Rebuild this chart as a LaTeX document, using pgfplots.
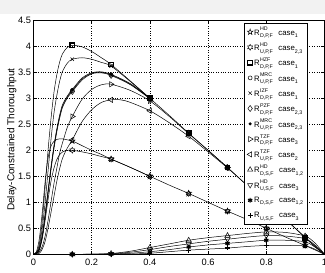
\documentclass[border=0pt]{standalone}
\usepackage{fontspec}
\setmainfont{Liberation Sans}
\usepackage{pgfplots}
\pgfplotsset{compat=1.18}
\pgfdeclareplotmark{pentagram}{%
  \pgfpathmoveto{\pgfpointpolar{90}{1.25\pgfplotmarksize}}%
  \pgfpathlineto{\pgfpointpolar{126}{0.48\pgfplotmarksize}}%
  \pgfpathlineto{\pgfpointpolar{162}{1.25\pgfplotmarksize}}%
  \pgfpathlineto{\pgfpointpolar{198}{0.48\pgfplotmarksize}}%
  \pgfpathlineto{\pgfpointpolar{234}{1.25\pgfplotmarksize}}%
  \pgfpathlineto{\pgfpointpolar{270}{0.48\pgfplotmarksize}}%
  \pgfpathlineto{\pgfpointpolar{306}{1.25\pgfplotmarksize}}%
  \pgfpathlineto{\pgfpointpolar{342}{0.48\pgfplotmarksize}}%
  \pgfpathlineto{\pgfpointpolar{18}{1.25\pgfplotmarksize}}%
  \pgfpathlineto{\pgfpointpolar{54}{0.48\pgfplotmarksize}}%
  \pgfpathclose\pgfusepathqstroke}
\pgfdeclareplotmark{hexagram}{%
  \pgfpathmoveto{\pgfpointpolar{90}{1.2\pgfplotmarksize}}%
  \pgfpathlineto{\pgfpointpolar{120}{0.69\pgfplotmarksize}}%
  \pgfpathlineto{\pgfpointpolar{150}{1.2\pgfplotmarksize}}%
  \pgfpathlineto{\pgfpointpolar{180}{0.69\pgfplotmarksize}}%
  \pgfpathlineto{\pgfpointpolar{210}{1.2\pgfplotmarksize}}%
  \pgfpathlineto{\pgfpointpolar{240}{0.69\pgfplotmarksize}}%
  \pgfpathlineto{\pgfpointpolar{270}{1.2\pgfplotmarksize}}%
  \pgfpathlineto{\pgfpointpolar{300}{0.69\pgfplotmarksize}}%
  \pgfpathlineto{\pgfpointpolar{330}{1.2\pgfplotmarksize}}%
  \pgfpathlineto{\pgfpointpolar{0}{0.69\pgfplotmarksize}}%
  \pgfpathlineto{\pgfpointpolar{30}{1.2\pgfplotmarksize}}%
  \pgfpathlineto{\pgfpointpolar{60}{0.69\pgfplotmarksize}}%
  \pgfpathclose\pgfusepathqstroke}
\newcommand{\ssz}{\fontsize{5.3}{5.3}\selectfont}
\newcommand{\RR}[3]{R\kern0.3pt\rlap{\raisebox{4.3pt}{\ssz #1}}\raisebox{-2.6pt}{\ssz #2}\hspace{5.5pt}case\raisebox{-2.6pt}{\ssz #3}}
\begin{document}
\begin{tikzpicture}
\fill[black!5] (0,259pt) rectangle (325pt,273pt);
\begin{axis}[
  at={(33.5pt,18.7pt)}, anchor=south west,
  scale only axis, width=291pt, height=234pt,
  xmin=0, xmax=1, ymin=0, ymax=4.5,
  xtick={0,0.2,0.4,0.6,0.8,1}, ytick={0,0.5,...,4.5},
  xticklabels={0,0.2,0.4,0.6,0.8,1},
  yticklabels={0,0.5,1,1.5,2,2.5,3,3.5,4,4.5},
  tick label style={font=\fontsize{9.3}{10}\selectfont},
  xticklabel style={yshift=-1pt},
  yticklabel style={xshift=1pt},
  /pgf/number format/assume math mode=true,
  ylabel={Delay-Constrained Thoroughput},
  ylabel style={font=\fontsize{10}{11}\selectfont},
  every axis y label/.style={at={(axis description cs:-0.075,0.49)}, rotate=90, anchor=center},
  grid=major, grid style={dotted, black, line width=0.45pt},
  tick style={black, line width=0.4pt}, major tick length=3pt,
  axis line style={line width=0.5pt},
  every axis plot/.append style={black, line width=0.5pt},
  mark size=2.4pt,
  legend style={at={(0.723,0.988)}, anchor=north west, draw=black, line width=0.5pt, fill=white,
    font=\fontsize{7.8}{7.8}\selectfont, inner xsep=3pt, inner ysep=1pt, row sep=0pt,
    nodes={minimum height=15.3pt, inner ysep=0pt, inner xsep=1pt},
    /tikz/every even column/.append style={column sep=1.5pt}},
  legend cell align=left,
  legend image code/.code={\draw[mark repeat=2,mark phase=2,#1] plot coordinates {(0cm,0cm) (0.2cm,0cm) (0.4cm,0cm)};},
]
% ---------- curves (lines) ----------
\addplot[smooth, tension=0.5, forget plot] coordinates {(0,0) (0.01,0.05) (0.02,0.3) (0.03,0.8) (0.04,1.4) (0.05,1.85) (0.06,2.08) (0.07,2.17) (0.08,2.21) (0.09,2.22) (0.1,2.22) (0.1167,2.2) (0.1333,2.18) (0.1667,2.09) (0.2,2.0) (0.2333,1.92) (0.2667,1.83) (0.3333,1.67) (0.4,1.5) (0.4667,1.33) (0.5333,1.17) (0.6,1.0) (0.6667,0.83) (0.7333,0.67) (0.8,0.5) (0.8667,0.33) (0.9333,0.17) (1,0)};
\addplot[smooth, tension=0.5, forget plot] coordinates {(0,0) (0.01,0.01) (0.02,0.08) (0.03,0.3) (0.04,0.65) (0.05,1.05) (0.06,1.4) (0.07,1.65) (0.08,1.82) (0.09,1.92) (0.1,1.97) (0.1167,2.0) (0.1333,2.0) (0.1667,1.97) (0.2,1.93) (0.2333,1.88) (0.2667,1.83) (0.3333,1.67) (0.4,1.5)};
\addplot[smooth, tension=0.5, forget plot] coordinates {(0,0) (0.01,0.03) (0.02,0.2) (0.03,0.65) (0.04,1.3) (0.05,2.0) (0.06,2.6) (0.07,3.1) (0.08,3.45) (0.09,3.7) (0.1,3.86) (0.1167,3.98) (0.1333,4.02) (0.1667,3.99) (0.2,3.9) (0.2333,3.78) (0.2667,3.65) (0.3333,3.33) (0.4,3.0) (0.4667,2.67) (0.5333,2.33) (0.6,2.0) (0.6667,1.67) (0.7333,1.33) (0.8,1.0) (0.8667,0.67) (0.9333,0.32) (0.9667,0.15) (1,0)};
\addplot[smooth, tension=0.5, forget plot] coordinates {(0,0) (0.01,0.02) (0.02,0.1) (0.03,0.35) (0.04,0.75) (0.05,1.2) (0.06,1.65) (0.07,2.05) (0.08,2.38) (0.09,2.65) (0.1,2.85) (0.1167,3.03) (0.1333,3.15) (0.1667,3.37) (0.2,3.48) (0.2333,3.5) (0.2667,3.45) (0.3333,3.27) (0.4,3.0)};
\addplot[smooth, tension=0.5, forget plot] coordinates {(0,0) (0.01,0.03) (0.02,0.15) (0.03,0.5) (0.04,1.0) (0.05,1.6) (0.06,2.2) (0.07,2.7) (0.08,3.05) (0.09,3.33) (0.1,3.52) (0.1167,3.68) (0.1333,3.75) (0.1667,3.78) (0.2,3.75) (0.2333,3.69) (0.2667,3.62) (0.3333,3.32) (0.4,3.0)};
\addplot[smooth, tension=0.5, forget plot] coordinates {(0,0) (0.01,0.02) (0.02,0.09) (0.03,0.33) (0.04,0.72) (0.05,1.17) (0.06,1.62) (0.07,2.02) (0.08,2.35) (0.09,2.62) (0.1,2.83) (0.1167,3.01) (0.1333,3.13) (0.1667,3.35) (0.2,3.47) (0.2333,3.49) (0.2667,3.44) (0.3333,3.26) (0.4,2.99)};
\addplot[smooth, tension=0.5, forget plot] coordinates {(0,0) (0.01,0.02) (0.02,0.11) (0.03,0.37) (0.04,0.78) (0.05,1.23) (0.06,1.68) (0.07,2.08) (0.08,2.41) (0.09,2.68) (0.1,2.88) (0.1167,3.05) (0.1333,3.17) (0.1667,3.39) (0.2,3.49) (0.2333,3.51) (0.2667,3.46) (0.3333,3.28) (0.4,3.0)};
\addplot[smooth, tension=0.5, forget plot] coordinates {(0,0) (0.01,0.01) (0.02,0.05) (0.03,0.15) (0.04,0.35) (0.05,0.65) (0.06,1.0) (0.07,1.35) (0.08,1.65) (0.09,1.95) (0.1,2.15) (0.1167,2.45) (0.1333,2.65) (0.1667,2.98) (0.2,3.17) (0.2333,3.26) (0.2667,3.27) (0.3333,3.15) (0.4,2.95) (0.4667,2.65) (0.5333,2.32) (0.6,2.0) (0.6667,1.67)};
\addplot[smooth, tension=0.5, forget plot] coordinates {(0,0) (0.02,0.02) (0.03,0.1) (0.04,0.25) (0.05,0.5) (0.06,0.8) (0.07,1.1) (0.08,1.4) (0.09,1.65) (0.1,1.85) (0.1167,2.05) (0.1333,2.2) (0.1667,2.55) (0.2,2.78) (0.2333,2.92) (0.2667,2.97) (0.3,2.97) (0.3333,2.92) (0.4,2.76) (0.4667,2.53) (0.5333,2.27) (0.6,1.97) (0.6667,1.66) (0.7333,1.33) (0.8,1.0) (0.8667,0.67) (0.9333,0.33) (0.9667,0.16) (1,0)};
\addplot[smooth, tension=0.5, forget plot] coordinates {(0,0) (0.1333,0) (0.2,0.003) (0.2667,0.015) (0.3333,0.06) (0.4,0.13) (0.4667,0.2) (0.5333,0.27) (0.6,0.32) (0.6667,0.36) (0.7333,0.4) (0.8,0.43) (0.8667,0.42) (0.9333,0.35) (0.9667,0.22) (1,0)};
\addplot[smooth, tension=0.5, forget plot] coordinates {(0,0) (0.1333,0) (0.2,0.002) (0.2667,0.01) (0.3333,0.04) (0.4,0.09) (0.4667,0.15) (0.5333,0.2) (0.6,0.25) (0.6667,0.29) (0.7333,0.33) (0.8,0.36) (0.8667,0.35) (0.9333,0.3) (0.9667,0.18) (1,0)};
\addplot[smooth, tension=0.5, forget plot] coordinates {(0,0) (0.1333,0) (0.2,0.001) (0.2667,0.005) (0.3333,0.02) (0.4,0.05) (0.4667,0.09) (0.5333,0.14) (0.6,0.18) (0.6667,0.21) (0.7333,0.24) (0.8,0.27) (0.8667,0.27) (0.9333,0.24) (0.9667,0.14) (1,0)};
\addplot[smooth, tension=0.5, forget plot] coordinates {(0,0) (0.1333,0) (0.2667,0.001) (0.3333,0.005) (0.4,0.02) (0.4667,0.05) (0.5333,0.08) (0.6,0.1) (0.6667,0.12) (0.7333,0.15) (0.8,0.17) (0.8667,0.17) (0.9333,0.16) (0.9667,0.1) (1,0)};
% ---------- marks ----------
\addplot[only marks, mark=pentagram] coordinates {(0.1333,2.18) (0.2667,1.83) (0.4,1.5) (0.5333,1.17) (0.6667,0.83) (0.8,0.5) (0.9333,0.17)};
\addlegendentry{\RR{HD}{D,P,F}{1}}
\addplot[only marks, mark=hexagram] coordinates {(0.1333,2.0) (0.2667,1.83) (0.4,1.5) (0.5333,1.17) (0.6667,0.83) (0.8,0.5) (0.9333,0.17)};
\addlegendentry{\RR{HD}{U,P,F}{2,3}}
\addplot[only marks, mark=square, mark options={line width=1.3pt}, mark size=2.3pt] coordinates {(0.1333,4.02) (0.2667,3.65) (0.4,3.0) (0.5333,2.33) (0.6667,1.67) (0.8,1.0) (0.9333,0.32)};
\addlegendentry{\RR{HZF}{D,P,F}{1}}
\addplot[only marks, mark=o, mark size=2pt] coordinates {(0.1333,3.15) (0.2667,3.45) (0.4,3.0) (0.5333,2.33) (0.6667,1.67) (0.8,1.0) (0.9333,0.32)};
\addlegendentry{\RR{MRC}{U,P,F}{1}}
\addplot[only marks, mark=x] coordinates {(0.1333,3.75) (0.2667,3.62) (0.4,3.0) (0.5333,2.33) (0.6667,1.67) (0.8,1.0) (0.9333,0.32)};
\addlegendentry{\RR{IZF}{D,P,F}{1}}
\addplot[only marks, mark=diamond, mark size=3pt] coordinates {(0.1333,3.13) (0.2667,3.44) (0.4,2.99) (0.5333,2.33) (0.6667,1.67) (0.8,1.0) (0.9333,0.32)};
\addlegendentry{\RR{PZF}{D,P,F}{2,3}}
\addplot[only marks, mark=*, mark size=1.3pt] coordinates {(0.1333,3.17) (0.2667,3.46) (0.4,3.0) (0.5333,2.33) (0.6667,1.67) (0.8,1.0) (0.9333,0.32)};
\addlegendentry{\RR{MRC}{U,P,F}{2,3}}
\addplot[only marks, mark=triangle, mark options={rotate=-90}, mark size=3pt] coordinates {(0.1333,2.65) (0.2667,3.27) (0.4,2.95) (0.5333,2.32) (0.6667,1.67) (0.8,1.0) (0.9333,0.32)};
\addlegendentry{\RR{TZF}{D,P,F}{3}}
\addplot[only marks, mark=triangle, mark options={rotate=90}, mark size=3pt] coordinates {(0.1333,2.2) (0.2667,2.97) (0.4,2.76) (0.5333,2.27) (0.6667,1.66) (0.8,1.0) (0.9333,0.33)};
\addlegendentry{\RR{TZF}{U,P,F}{2}}
\addplot[only marks, mark=triangle, mark size=3pt] coordinates {(0.1333,0) (0.2667,0.015) (0.4,0.13) (0.5333,0.27) (0.6667,0.36) (0.8,0.43) (0.9333,0.35)};
\addlegendentry{\RR{HD}{D,S,F}{1,2}}
\addplot[only marks, mark=triangle, mark options={rotate=180}, mark size=3pt] coordinates {(0.1333,0) (0.2667,0.01) (0.4,0.09) (0.5333,0.2) (0.6667,0.29) (0.8,0.36) (0.9333,0.3)};
\addlegendentry{\RR{HD}{U,S,F}{3}}
\addplot[only marks, mark=asterisk, mark options={line width=1.2pt}, mark size=2.4pt] coordinates {(0.1333,0) (0.2667,0.005) (0.4,0.05) (0.5333,0.14) (0.6667,0.21) (0.8,0.27) (0.9333,0.24)};
\addlegendentry{\RR{}{D,S,F}{1,2}}
\addplot[only marks, mark=+, mark options={line width=1.2pt}, mark size=2.4pt] coordinates {(0.1333,0) (0.2667,0.001) (0.4,0.02) (0.5333,0.08) (0.6667,0.12) (0.8,0.17) (0.9333,0.16)};
\addlegendentry{\RR{}{U,S,F}{3}}
\end{axis}
\pgfresetboundingbox
\path[use as bounding box] (0,0) rectangle (325pt,273pt);
\end{tikzpicture}
\end{document}
